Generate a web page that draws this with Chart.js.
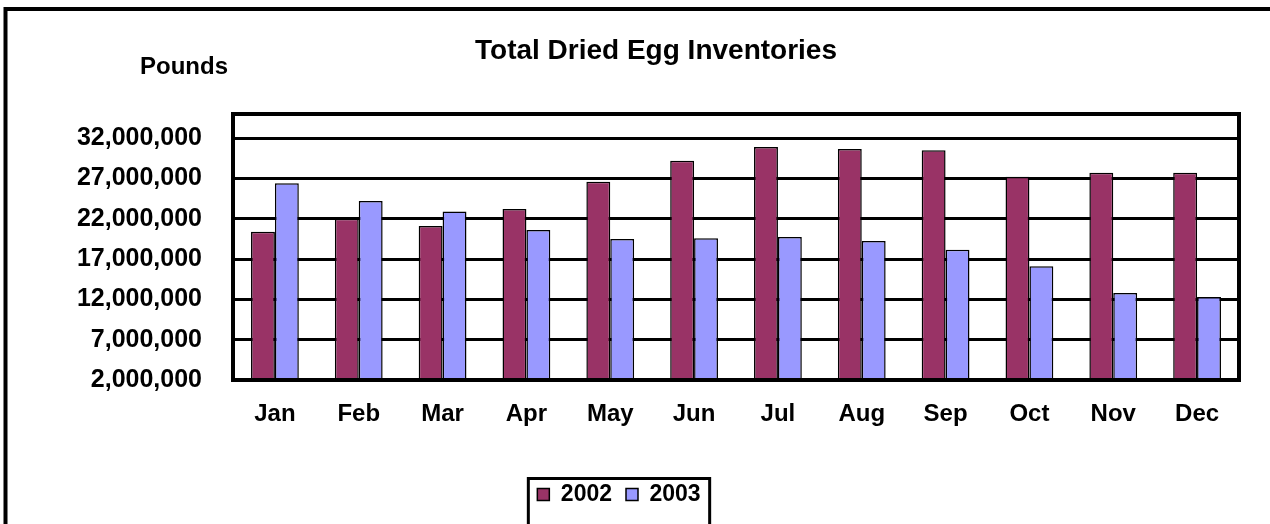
<!DOCTYPE html>
<html>
<head>
<meta charset="utf-8">
<script src="https://cdn.jsdelivr.net/npm/chart.js@4/dist/chart.umd.min.js"></script>
<style>
  html, body { margin: 0; padding: 0; background: #fff; overflow: hidden; }
  canvas { display: block; }
</style>
</head>
<body>
<canvas id="eggChart" width="1270" height="524"></canvas>
<script>
// data
const months = ['Jan', 'Feb', 'Mar', 'Apr', 'May', 'Jun', 'Jul', 'Aug', 'Sep', 'Oct', 'Nov', 'Dec'];
const inv2002 = [20400000, 22000000, 21100000, 23200000, 26600000, 29200000, 30900000, 30650000, 30500000, 27200000, 27700000, 27700000];
const inv2003 = [26400000, 24200000, 22900000, 20600000, 19500000, 19600000, 19750000, 19250000, 18150000, 16100000, 12800000, 12300000];
const yTicks = [2000000, 7000000, 12000000, 17000000, 22000000, 27000000, 32000000];

Chart.defaults.font.family = 'Arial, "Liberation Sans", sans-serif';
Chart.defaults.font.weight = 'bold';
Chart.defaults.color = '#000';

// outer frame, plot box, "Pounds" label and legend box
const decorations = {
    id: 'decorations',
    beforeDraw(chart) {
        const ctx = chart.ctx;
        ctx.save();
        ctx.fillStyle = '#fff';
        ctx.fillRect(0, 0, chart.width, chart.height);
        ctx.strokeStyle = '#000';
        ctx.lineWidth = 4;
        ctx.beginPath();
        ctx.moveTo(5.5, chart.height + 10);
        ctx.lineTo(5.5, 9);
        ctx.lineTo(chart.width + 10, 9);
        ctx.stroke();
        ctx.font = 'bold 24px Arial, "Liberation Sans", sans-serif';
        ctx.fillStyle = '#000';
        ctx.textAlign = 'center';
        ctx.textBaseline = 'middle';
        ctx.fillText('Pounds', 184, 67);
        ctx.restore();
    },
    afterUpdate(chart) {
        const legend = chart.legend;
        legend.left -= 37;
        legend.right -= 37;
        legend.adjustHitBoxes();
    },
    afterDatasetsDraw(chart) {
        const {ctx, chartArea} = chart;
        ctx.save();
        ctx.strokeStyle = '#000';
        ctx.lineWidth = 4;
        ctx.strokeRect(chartArea.left, chartArea.top, chartArea.right - chartArea.left, chartArea.bottom - chartArea.top);
        ctx.restore();
    },
    afterDraw(chart) {
        const legend = chart.legend;
        const ctx = chart.ctx;
        const rowWidth = legend.lineWidths ? legend.lineWidths[0] : 150;
        const cx = (legend.left + legend.right) / 2;
        const midY = legend.top + 14 + 23 / 2;
        const x0 = cx - rowWidth / 2 - 2;
        const x1 = cx + rowWidth / 2 + 2;
        ctx.save();
        ctx.strokeStyle = '#000';
        ctx.lineWidth = 3;
        ctx.strokeRect(x0, midY - 16, x1 - x0, 60);
        ctx.restore();
    }
};

new Chart(document.getElementById('eggChart'), {
    type: 'bar',
    data: {
        labels: months,
        datasets: [{
            label: '2002',
            data: inv2002,
            backgroundColor: '#993366',
            borderColor: '#000',
            borderWidth: 1.5
        }, {
            label: '2003',
            data: inv2003,
            backgroundColor: '#9999FF',
            borderColor: '#000',
            borderWidth: 1.5
        }]
    },
    options: {
        responsive: false,
        animation: false,
        categoryPercentage: 0.57,
        barPercentage: 1.0,
        layout: {
            padding: {left: 73, right: 31, top: 14, bottom: 8}
        },
        plugins: {
            title: {
                display: true,
                text: 'Total Dried Egg Inventories',
                font: {size: 28, weight: 'bold'},
                padding: {top: 20, bottom: 46.4}
            },
            legend: {
                position: 'bottom',
                labels: {
                    font: {size: 23, weight: 'bold'},
                    boxWidth: 12,
                    boxHeight: 12,
                    padding: 14
                }
            },
            tooltip: {enabled: false}
        },
        scales: {
            x: {
                grid: {display: false, drawTicks: false},
                border: {display: false},
                ticks: {font: {size: 24, weight: 'bold'}, padding: 20},
                afterFit(scale) { scale.height = 89; }
            },
            y: {
                min: 2000000,
                max: 35000000,
                grid: {color: '#000', lineWidth: 3, drawTicks: false},
                border: {display: false},
                ticks: {
                    font: {size: 25, weight: 'bold'},
                    padding: 31,
                    callback: v => v.toLocaleString('en-US')
                },
                afterBuildTicks(scale) {
                    scale.ticks = yTicks.map(v => ({value: v}));
                },
                afterFit(scale) { scale.width = 160; }
            }
        }
    },
    plugins: [decorations]
});
</script>
</body>
</html>
